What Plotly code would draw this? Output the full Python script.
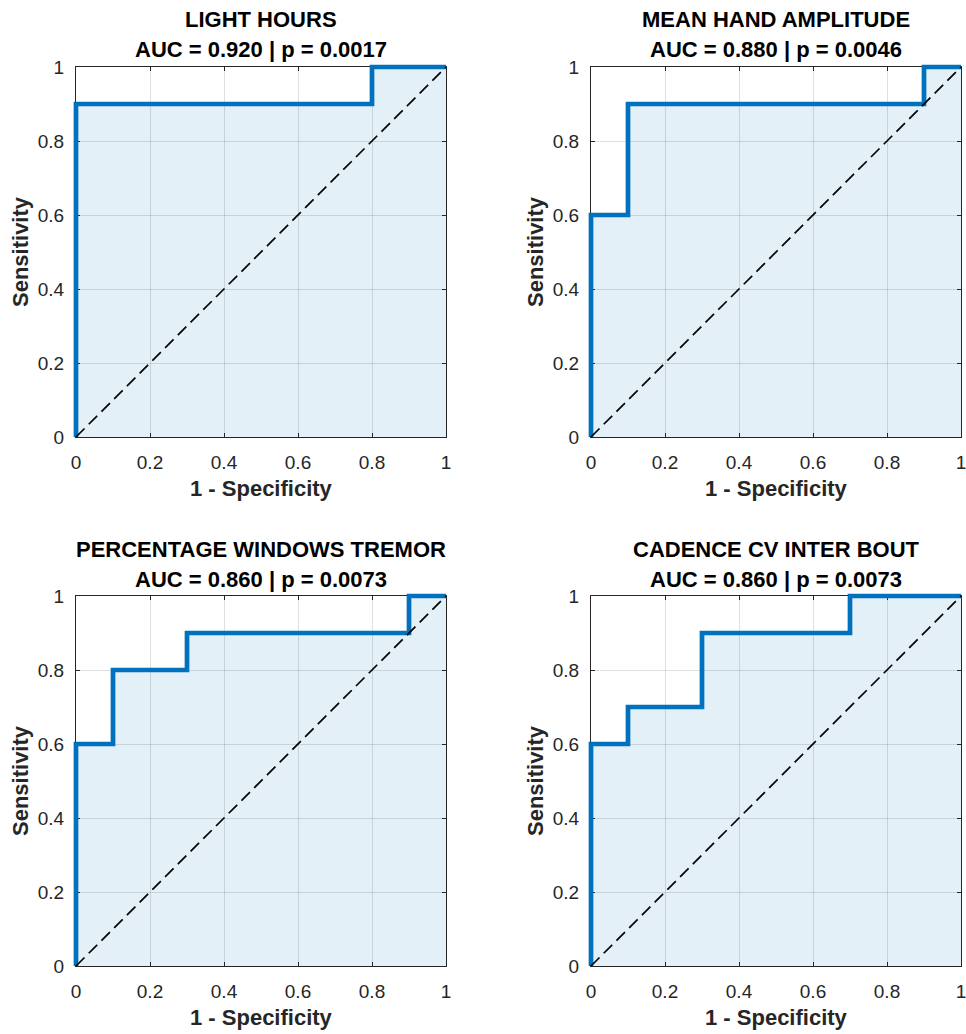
import plotly.graph_objects as go

# ROC curves (1 - specificity, sensitivity) for each feature
features = ["LIGHT HOURS", "MEAN HAND AMPLITUDE",
            "PERCENTAGE WINDOWS TREMOR", "CADENCE CV INTER BOUT"]
auc_values = [0.920, 0.880, 0.860, 0.860]
p_values = ["0.0017", "0.0046", "0.0073", "0.0073"]

fpr_light = [0, 0, 0.8, 0.8, 1]
tpr_light = [0, 0.9, 0.9, 1, 1]
fpr_hand = [0, 0, 0.1, 0.1, 0.9, 0.9, 1]
tpr_hand = [0, 0.6, 0.6, 0.9, 0.9, 1, 1]
fpr_tremor = [0, 0, 0.1, 0.1, 0.3, 0.3, 0.9, 0.9, 1]
tpr_tremor = [0, 0.6, 0.6, 0.8, 0.8, 0.9, 0.9, 1, 1]
fpr_cadence = [0, 0, 0.1, 0.1, 0.3, 0.3, 0.7, 0.7, 1]
tpr_cadence = [0, 0.6, 0.6, 0.7, 0.7, 0.9, 0.9, 1, 1]

curves = [(fpr_light, tpr_light), (fpr_hand, tpr_hand),
          (fpr_tremor, tpr_tremor), (fpr_cadence, tpr_cadence)]
tick_vals = [0, 0.2, 0.4, 0.6, 0.8, 1]
tick_text = ["0", "0.2", "0.4", "0.6", "0.8", "1"]

W, H = 966, 1034
# panel boxes in pixels: (left, right, top, bottom)
boxes = [(76, 446, 67, 437), (591, 961, 67, 437),
         (76, 446, 596, 966), (591, 961, 596, 966)]
PAD = 5  # extra pixels around each panel so thick lines on the border are not clipped

BLUE = "#0072BD"
AX = "#262626"
FONT = "Liberation Sans, Arial, Helvetica, sans-serif"

fig = go.Figure()
layout = dict(
    width=W, height=H, margin=dict(l=0, r=0, t=0, b=0, autoexpand=False),
    paper_bgcolor="white", plot_bgcolor="rgba(0,0,0,0)", showlegend=False,
    font=dict(family=FONT, color=AX),
)
annotations = []


def axis_name(k):
    return ("x" if k == 1 else f"x{k}"), ("y" if k == 1 else f"y{k}")


for i, (name, auc, p, (fx, ty), (l, r, t, b)) in enumerate(
        zip(features, auc_values, p_values, curves, boxes)):
    n = i + 1          # visible axes
    m = i + 5          # overlay axes for the lines (slightly larger, hidden)
    xa, ya = axis_name(n)
    xo, yo = axis_name(m)

    # area under the curve
    fig.add_trace(go.Scatter(x=fx, y=ty, mode="lines", line=dict(width=0),
                             fill="tozeroy", fillcolor="rgba(0,114,189,0.11)",
                             xaxis=xa, yaxis=ya, hoverinfo="skip"))
    fig.add_trace(go.Scatter(x=fx, y=ty, mode="lines",
                             line=dict(color=BLUE, width=4.7),
                             xaxis=xo, yaxis=yo))
    fig.add_trace(go.Scatter(x=[0, 1], y=[0, 1], mode="lines",
                             line=dict(color="black", width=1.7, dash="12px,6px"),
                             xaxis=xo, yaxis=yo))

    axis_common = dict(
        range=[0, 1], tickvals=tick_vals, ticktext=tick_text,
        showgrid=True, gridcolor="rgba(38,38,38,0.15)", gridwidth=1,
        zeroline=False, showline=True, linecolor=AX, linewidth=1,
        mirror="ticks", ticks="inside", ticklen=4, tickcolor=AX,
        tickfont=dict(family=FONT, size=19, color=AX), fixedrange=True,
        automargin=False, ticklabeloverflow="allow",
    )
    xkey = "xaxis" if n == 1 else f"xaxis{n}"
    ykey = "yaxis" if n == 1 else f"yaxis{n}"
    layout[xkey] = dict(axis_common, domain=[l / W, r / W], anchor=ya,
                        ticklabelstandoff=8)
    layout[ykey] = dict(axis_common, domain=[1 - b / H, 1 - t / H], anchor=xa,
                        ticklabelstandoff=7)

    # hidden overlay axes: same scale, extended by PAD pixels on every side
    dx = PAD / (r - l)
    dy = PAD / (b - t)
    layout["xaxis" + str(m)] = dict(
        domain=[(l - PAD) / W, (r + PAD) / W], range=[-dx, 1 + dx],
        visible=False, fixedrange=True, anchor=yo, showgrid=False, zeroline=False)
    layout["yaxis" + str(m)] = dict(
        domain=[1 - (b + PAD) / H, 1 - (t - PAD) / H], range=[-dy, 1 + dy],
        visible=False, fixedrange=True, anchor=xo, showgrid=False, zeroline=False)

    cx = (l + r) / 2 / W
    annotations.append(dict(text=f"<b>{name}</b>", x=cx, y=1 - (t - 47) / H,
                            xref="paper", yref="paper", showarrow=False,
                            xanchor="center", yanchor="middle",
                            font=dict(family=FONT, size=22, color="black")))
    annotations.append(dict(text=f"<b>AUC = {auc:.3f} | p = {p}</b>",
                            x=cx, y=1 - (t - 17) / H,
                            xref="paper", yref="paper", showarrow=False,
                            xanchor="center", yanchor="middle",
                            font=dict(family=FONT, size=22, color="black")))
    annotations.append(dict(text="<b>1 - Specificity</b>", x=cx,
                            y=1 - (b + 51) / H, xref="paper", yref="paper",
                            showarrow=False, xanchor="center", yanchor="middle",
                            font=dict(family=FONT, size=22, color=AX)))
    annotations.append(dict(text="<b>Sensitivity</b>", x=(l - 56) / W,
                            y=1 - (t + b) / 2 / H, xref="paper", yref="paper",
                            showarrow=False, xanchor="center", yanchor="middle",
                            textangle=-90,
                            font=dict(family=FONT, size=22, color=AX)))

layout["annotations"] = annotations
fig.update_layout(**layout)
fig.write_html("out.html")
